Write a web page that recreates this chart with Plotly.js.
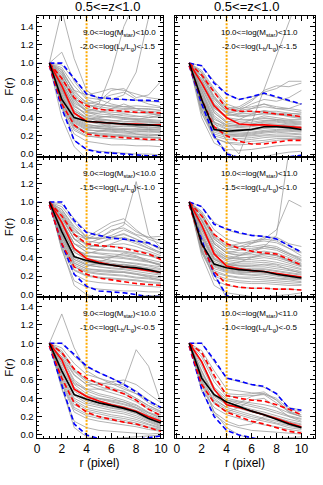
<!DOCTYPE html>
<html>
<head>
<meta charset="utf-8">
<script src="https://cdn.plot.ly/plotly-3.0.1.min.js"></script>
<style>
  html, body { margin: 0; padding: 0; background: #fff; }
  #grafico { width: 323px; height: 485px; }
</style>
</head>
<body>
<div id="grafico"></div>
<script>
// r (pixel) sampled at 1..10
const raio = [1, 2, 3, 4, 5, 6, 7, 8, 9, 10];

const tituloColuna = '0.5&lt;=z&lt;1.0';
const rotMassa = ['9.0&lt;=log(M<sub>star</sub>)&lt;10.0', '10.0&lt;=log(M<sub>star</sub>)&lt;11.0'];
const rotLum = ['-2.0&lt;=log(L<sub>b</sub>/L<sub>g</sub>)&lt;-1.5',
                '-1.5&lt;=log(L<sub>b</sub>/L<sub>g</sub>)&lt;-1.0',
                '-1.0&lt;=log(L<sub>b</sub>/L<sub>g</sub>)&lt;-0.5'];

// ---- painel superior esquerdo
const cinzaTL = [
  [1,0.98,0.82,0.66,0.62,0.60,0.60,0.59,0.58,0.57],
  [1,0.95,0.75,0.60,0.55,0.52,0.50,0.50,0.49,0.48],
  [1,0.90,0.70,0.55,0.50,0.48,0.47,0.45,0.46,0.44],
  [1,0.88,0.65,0.50,0.47,0.44,0.42,0.41,0.42,0.40],
  [1,0.85,0.60,0.46,0.42,0.40,0.39,0.38,0.37,0.36],
  [1,0.80,0.55,0.42,0.39,0.37,0.36,0.35,0.35,0.34],
  [1,0.78,0.50,0.40,0.36,0.34,0.33,0.33,0.32,0.31],
  [1,0.72,0.46,0.36,0.33,0.31,0.30,0.30,0.29,0.28],
  [1,0.68,0.42,0.33,0.30,0.29,0.28,0.27,0.27,0.26],
  [1,0.64,0.38,0.30,0.28,0.26,0.25,0.25,0.24,0.24],
  [1,0.60,0.35,0.27,0.25,0.24,0.23,0.22,0.22,0.21],
  [1,0.56,0.32,0.24,0.22,0.21,0.20,0.19,0.19,0.18],
  [1,0.52,0.28,0.20,0.18,0.17,0.16,0.16,0.15,0.15],
  [1,0.50,0.22,0.14,0.12,0.10,0.10,0.09,0.09,0.08],
  [1,0.55,0.15,0.05,0.03,0.02,0.01,0.00,0.00,-0.01],
  [0.98,0.40,0.08,-0.05,-0.06,-0.05,-0.05,-0.04,-0.04,-0.04],
  [1,1.58,1.05,0.70,0.60,0.55,0.52,0.50,0.50,0.48],
  [1,1.12,0.80,0.62,0.60,0.65,0.68,0.60,0.55,0.52],
  [1,0.90,0.62,0.50,0.55,0.90,1.40,1.70,1.70,1.70],
  [1,0.85,0.60,0.48,0.50,0.60,0.65,0.90,1.50,1.80],
  [1,0.82,0.60,0.55,0.58,0.70,0.72,0.62,0.65,0.80],
  [1,0.92,0.70,0.65,0.68,0.72,0.70,0.66,0.62,0.60],
  [1,0.75,0.52,0.45,0.45,0.50,0.55,0.50,0.45,0.42],
  [1,0.70,0.45,0.38,0.40,0.42,0.40,0.38,0.40,0.43],
  [1,0.62,0.36,0.28,0.30,0.33,0.32,0.30,0.28,0.30],
  [1,0.58,0.30,0.22,0.25,0.27,0.26,0.22,0.20,0.22],
  [1,0.83,0.58,0.47,0.44,0.43,0.44,0.42,0.40,0.41],
  [1,0.77,0.53,0.43,0.41,0.41,0.40,0.39,0.38,0.37],
  [1,0.74,0.48,0.39,0.37,0.36,0.38,0.37,0.36,0.35],
  [1,0.70,0.44,0.35,0.34,0.33,0.33,0.34,0.33,0.33],
  [1,0.66,0.40,0.32,0.31,0.30,0.31,0.30,0.30,0.29],
  [1,0.62,0.37,0.29,0.28,0.28,0.27,0.28,0.27,0.27],
  [1,0.58,0.34,0.26,0.26,0.25,0.24,0.24,0.25,0.24],
  [1,0.54,0.30,0.23,0.23,0.22,0.21,0.21,0.21,0.20],
  [1,0.52,0.26,0.19,0.20,0.19,0.19,0.18,0.18,0.18],
  [1,0.79,0.56,0.48,0.47,0.46,0.45,0.46,0.44,0.43],
  [1,0.87,0.66,0.54,0.52,0.50,0.49,0.48,0.47,0.46],
  [1,0.71,0.47,0.40,0.38,0.37,0.35,0.36,0.35,0.34],
  [1,0.65,0.39,0.31,0.29,0.27,0.27,0.26,0.26,0.25],
  [1,0.57,0.31,0.24,0.21,0.20,0.20,0.19,0.18,0.17],
  [1,0.93,0.68,0.57,0.54,0.53,0.52,0.53,0.52,0.51]
];
const medianaTL = [1,0.60,0.40,0.36,0.35,0.34,0.33,0.32,0.32,0.31];
const mediaTL   = [1,0.75,0.45,0.36,0.35,0.34,0.33,0.33,0.32,0.32];
const vermSupTL = [1,0.83,0.62,0.53,0.49,0.48,0.47,0.46,0.46,0.45];
const vermInfTL = [0.97,0.55,0.32,0.22,0.20,0.19,0.18,0.17,0.16,0.16];
const azulSupTL = [1,1.00,0.83,0.66,0.62,0.61,0.60,0.59,0.59,0.58];
const azulInfTL = [0.97,0.50,0.15,0.05,0.02,0.01,0.00,-0.01,-0.02,-0.02];

// ---- painel superior direito
const cinzaTR = [
  [1,0.97,0.80,0.66,0.60,0.63,0.66,0.62,0.58,0.55],
  [1,0.92,0.72,0.55,0.50,0.52,0.55,0.52,0.50,0.48],
  [1,0.88,0.68,0.50,0.46,0.47,0.46,0.44,0.43,0.41],
  [1,0.85,0.62,0.45,0.42,0.43,0.44,0.43,0.42,0.40],
  [1,0.80,0.55,0.40,0.38,0.38,0.40,0.38,0.37,0.36],
  [1,0.75,0.48,0.36,0.34,0.35,0.37,0.36,0.34,0.33],
  [1,0.70,0.42,0.32,0.30,0.31,0.34,0.33,0.32,0.30],
  [1,0.65,0.35,0.28,0.27,0.28,0.30,0.31,0.30,0.28],
  [1,0.60,0.30,0.25,0.25,0.26,0.28,0.29,0.28,0.26],
  [1,0.55,0.27,0.22,0.22,0.23,0.25,0.25,0.25,0.24],
  [1,0.50,0.24,0.20,0.19,0.20,0.21,0.22,0.22,0.21],
  [1,0.45,0.20,0.16,0.15,0.16,0.18,0.19,0.19,0.18],
  [1,0.50,0.18,0.12,0.10,0.11,0.13,0.15,0.16,0.16],
  [1,0.40,0.12,0.05,0.04,0.05,0.07,0.09,0.10,0.10],
  [1,0.55,0.20,0.02,-0.05,-0.05,-0.03,0.00,0.02,0.03],
  [1,0.70,0.35,0.15,0.00,0.34,0.71,1.08,1.45,1.82],
  [1,0.90,0.62,0.50,0.52,0.60,0.68,0.72,0.80,0.80],
  [1,0.85,0.60,0.48,0.50,0.58,0.70,0.75,0.74,0.78],
  [1,0.82,0.55,0.45,0.48,0.55,0.60,0.58,0.62,0.70],
  [1,0.78,0.50,0.42,0.44,0.50,0.55,0.50,0.50,0.55],
  [1,0.72,0.45,0.35,0.38,0.44,0.48,0.45,0.44,0.45],
  [1,0.62,0.35,0.30,0.32,0.38,0.42,0.40,0.38,0.38],
  [1,0.82,0.58,0.44,0.41,0.42,0.45,0.44,0.41,0.39],
  [1,0.77,0.51,0.39,0.36,0.37,0.39,0.38,0.36,0.35],
  [1,0.73,0.46,0.34,0.32,0.33,0.35,0.35,0.33,0.32],
  [1,0.68,0.40,0.30,0.29,0.30,0.32,0.32,0.31,0.29],
  [1,0.63,0.33,0.27,0.26,0.27,0.29,0.30,0.29,0.27],
  [1,0.58,0.29,0.24,0.23,0.24,0.26,0.27,0.26,0.25],
  [1,0.53,0.26,0.21,0.20,0.21,0.23,0.24,0.23,0.22],
  [1,0.48,0.22,0.18,0.17,0.18,0.20,0.20,0.20,0.19],
  [1,0.86,0.64,0.47,0.44,0.45,0.47,0.47,0.45,0.43],
  [1,0.66,0.38,0.32,0.31,0.33,0.36,0.37,0.35,0.34],
  [1,0.56,0.28,0.22,0.21,0.22,0.24,0.26,0.27,0.26],
  [1,0.90,0.70,0.52,0.48,0.50,0.52,0.50,0.48,0.46],
  [1,0.45,0.17,0.13,0.12,0.14,0.15,0.17,0.17,0.17]
];
const medianaTR = [1,0.60,0.27,0.25,0.26,0.27,0.30,0.30,0.29,0.27];
const mediaTR   = [1,0.78,0.53,0.40,0.33,0.32,0.32,0.31,0.30,0.29];
const vermSupTR = [1,0.87,0.68,0.50,0.47,0.47,0.46,0.44,0.43,0.41];
const vermInfTR = [0.97,0.60,0.30,0.20,0.14,0.11,0.11,0.13,0.15,0.15];
const azulSupTR = [1,0.97,0.78,0.66,0.60,0.63,0.67,0.63,0.59,0.55];
const azulInfTR = [0.97,0.55,0.20,0.00,-0.04,-0.06,-0.06,-0.05,-0.03,-0.015];

// ---- painel do meio esquerdo
const cinzaML = [
  [1,0.98,0.82,0.68,0.64,0.62,0.60,0.58,0.55,0.50],
  [1,0.95,0.78,0.62,0.60,0.62,0.65,0.60,0.52,0.45],
  [1,0.92,0.72,0.58,0.56,0.60,0.62,0.57,0.50,0.44],
  [1,0.88,0.66,0.54,0.52,0.54,0.55,0.52,0.47,0.42],
  [1,0.85,0.60,0.50,0.48,0.47,0.46,0.44,0.42,0.40],
  [1,0.80,0.55,0.46,0.44,0.42,0.40,0.38,0.36,0.33],
  [1,0.76,0.50,0.42,0.40,0.37,0.35,0.34,0.32,0.30],
  [1,0.72,0.46,0.38,0.36,0.34,0.32,0.31,0.29,0.27],
  [1,0.68,0.42,0.35,0.33,0.31,0.30,0.28,0.26,0.24],
  [1,0.64,0.38,0.32,0.30,0.28,0.27,0.25,0.23,0.21],
  [1,0.60,0.34,0.28,0.26,0.25,0.24,0.22,0.20,0.18],
  [1,0.56,0.30,0.24,0.22,0.21,0.20,0.18,0.17,0.15],
  [1,0.52,0.26,0.20,0.18,0.17,0.16,0.15,0.13,0.12],
  [1,0.50,0.22,0.15,0.13,0.12,0.11,0.10,0.09,0.08],
  [1,0.48,0.15,0.08,0.06,0.05,0.04,0.04,0.03,0.03],
  [1,0.50,0.10,0.00,-0.03,-0.02,-0.02,-0.02,-0.01,-0.01],
  [1,0.90,0.70,0.60,0.62,0.68,0.75,1.22,0.65,0.50],
  [1,0.88,0.68,0.62,0.70,0.78,0.82,0.70,0.60,0.55],
  [1,0.85,0.65,0.60,0.66,0.74,0.78,0.68,0.62,0.58],
  [1,0.82,0.60,0.55,0.60,0.70,0.72,0.65,0.62,0.63],
  [1,0.78,0.55,0.50,0.55,0.62,0.66,0.60,0.55,0.50],
  [1,0.70,0.48,0.44,0.48,0.55,0.60,0.55,0.50,0.46],
  [1,0.62,0.36,0.30,0.35,0.40,0.45,0.42,0.36,0.32],
  [1,0.83,0.60,0.50,0.49,0.48,0.47,0.45,0.42,0.38],
  [1,0.79,0.55,0.46,0.45,0.44,0.43,0.41,0.38,0.35],
  [1,0.75,0.50,0.42,0.41,0.40,0.39,0.37,0.35,0.32],
  [1,0.71,0.46,0.39,0.37,0.36,0.35,0.33,0.31,0.28],
  [1,0.67,0.42,0.35,0.34,0.33,0.32,0.30,0.28,0.25],
  [1,0.63,0.38,0.32,0.30,0.29,0.28,0.27,0.25,0.22],
  [1,0.59,0.34,0.28,0.27,0.26,0.25,0.23,0.21,0.19],
  [1,0.55,0.30,0.25,0.23,0.22,0.21,0.19,0.18,0.16],
  [1,0.87,0.64,0.53,0.52,0.52,0.51,0.48,0.45,0.40],
  [1,0.73,0.48,0.41,0.40,0.41,0.42,0.40,0.36,0.31],
  [1,0.65,0.40,0.33,0.32,0.32,0.33,0.31,0.27,0.23],
  [1,0.57,0.32,0.26,0.25,0.24,0.24,0.22,0.19,0.16],
  [1,0.92,0.74,0.62,0.60,0.64,0.70,0.64,0.56,0.48],
  [1,0.53,0.27,0.21,0.19,0.18,0.17,0.16,0.14,0.13]
];
const medianaML = [1,0.68,0.41,0.37,0.34,0.32,0.30,0.29,0.27,0.24];
const mediaML   = [1,0.78,0.50,0.39,0.35,0.32,0.30,0.28,0.26,0.24];
const vermSupML = [1,0.85,0.65,0.55,0.53,0.52,0.50,0.47,0.44,0.38];
const vermInfML = [0.97,0.55,0.30,0.22,0.18,0.16,0.14,0.12,0.11,0.10];
const azulSupML = [1,1.00,0.80,0.67,0.64,0.61,0.60,0.58,0.56,0.50];
const azulInfML = [0.97,0.55,0.22,0.09,0.04,0.03,0.02,0.00,-0.02,-0.02];

// ---- painel do meio direito
const cinzaMR = [
  [1,0.95,0.78,0.70,0.66,0.64,0.63,0.60,0.53,0.46],
  [1,0.90,0.70,0.60,0.56,0.56,0.58,0.56,0.50,0.42],
  [1,0.88,0.65,0.55,0.52,0.52,0.54,0.52,0.45,0.38],
  [1,0.85,0.60,0.50,0.48,0.48,0.50,0.48,0.42,0.36],
  [1,0.80,0.55,0.45,0.43,0.43,0.45,0.42,0.38,0.33],
  [1,0.75,0.50,0.40,0.38,0.38,0.40,0.38,0.34,0.30],
  [1,0.70,0.45,0.36,0.34,0.34,0.35,0.33,0.30,0.27],
  [1,0.65,0.40,0.33,0.31,0.30,0.30,0.28,0.26,0.24],
  [1,0.60,0.36,0.30,0.28,0.27,0.27,0.25,0.23,0.21],
  [1,0.55,0.32,0.27,0.25,0.24,0.24,0.22,0.20,0.18],
  [1,0.50,0.28,0.24,0.22,0.21,0.20,0.18,0.17,0.16],
  [1,0.48,0.24,0.20,0.18,0.17,0.16,0.15,0.14,0.13],
  [1,0.45,0.20,0.15,0.13,0.12,0.12,0.11,0.10,0.10],
  [1,0.50,0.16,0.10,0.08,0.07,0.07,0.06,0.06,0.05],
  [1,0.42,0.10,0.02,0.00,-0.02,-0.02,-0.01,0.00,0.02],
  [1,0.55,0.22,-0.04,-0.06,-0.05,-0.04,-0.03,-0.02,-0.01],
  [1,0.80,0.55,0.45,0.42,0.45,0.52,0.64,1.55,1.80],
  [1,0.88,0.62,0.52,0.55,0.58,0.60,0.70,1.02,0.95],
  [1,0.85,0.60,0.50,0.52,0.56,0.62,0.62,0.55,0.52],
  [1,0.80,0.55,0.45,0.48,0.55,0.60,0.58,0.50,0.45],
  [1,0.70,0.45,0.38,0.42,0.48,0.52,0.50,0.44,0.40],
  [1,0.62,0.38,0.32,0.35,0.40,0.44,0.42,0.36,0.32],
  [1,0.82,0.57,0.47,0.45,0.45,0.47,0.45,0.40,0.34],
  [1,0.77,0.52,0.42,0.40,0.40,0.42,0.40,0.36,0.31],
  [1,0.72,0.47,0.38,0.36,0.36,0.37,0.35,0.32,0.28],
  [1,0.67,0.42,0.34,0.32,0.32,0.32,0.30,0.28,0.25],
  [1,0.62,0.38,0.31,0.29,0.28,0.28,0.26,0.24,0.22],
  [1,0.57,0.34,0.28,0.26,0.25,0.25,0.23,0.21,0.19],
  [1,0.52,0.30,0.25,0.23,0.22,0.22,0.20,0.18,0.17],
  [1,0.47,0.26,0.21,0.19,0.19,0.18,0.17,0.16,0.14],
  [1,0.87,0.63,0.53,0.50,0.50,0.52,0.50,0.44,0.37],
  [1,0.74,0.48,0.40,0.39,0.41,0.44,0.43,0.37,0.31],
  [1,0.64,0.39,0.32,0.31,0.31,0.33,0.32,0.27,0.23],
  [1,0.54,0.31,0.26,0.24,0.24,0.23,0.21,0.19,0.17],
  [1,0.46,0.22,0.17,0.15,0.14,0.14,0.13,0.12,0.11]
];
const medianaMR = [1,0.55,0.33,0.29,0.27,0.26,0.25,0.22,0.20,0.18];
const mediaMR   = [1,0.75,0.44,0.31,0.28,0.26,0.25,0.23,0.21,0.19];
const vermSupMR = [1,0.85,0.65,0.55,0.50,0.47,0.45,0.44,0.38,0.32];
const vermInfMR = [0.97,0.55,0.25,0.11,0.08,0.07,0.07,0.06,0.06,0.05];
const azulSupMR = [1,0.95,0.76,0.71,0.67,0.64,0.63,0.60,0.53,0.46];
const azulInfMR = [0.97,0.60,0.22,-0.01,-0.06,-0.06,-0.06,-0.06,-0.06,-0.06];

// ---- painel inferior esquerdo
const cinzaBL = [
  [1,1.00,0.86,0.74,0.68,0.62,0.56,0.48,0.38,0.30],
  [1,0.95,0.78,0.66,0.62,0.58,0.52,0.45,0.35,0.28],
  [1,0.92,0.72,0.60,0.56,0.52,0.47,0.40,0.32,0.25],
  [1,0.88,0.66,0.55,0.50,0.46,0.42,0.36,0.28,0.22],
  [1,0.85,0.60,0.50,0.45,0.42,0.38,0.33,0.25,0.20],
  [1,0.80,0.55,0.45,0.40,0.37,0.34,0.30,0.22,0.17],
  [1,0.75,0.50,0.41,0.37,0.34,0.31,0.27,0.20,0.15],
  [1,0.70,0.45,0.37,0.33,0.30,0.28,0.24,0.17,0.12],
  [1,0.66,0.40,0.33,0.30,0.27,0.25,0.21,0.15,0.10],
  [1,0.62,0.36,0.28,0.25,0.22,0.20,0.17,0.12,0.08],
  [1,0.58,0.30,0.23,0.20,0.18,0.16,0.13,0.09,0.06],
  [1,0.55,0.25,0.18,0.15,0.13,0.11,0.09,0.06,0.04],
  [1,0.50,0.15,0.08,0.05,0.04,0.03,0.02,0.01,0.02],
  [1,0.52,0.08,-0.02,-0.04,-0.04,-0.03,-0.02,-0.01,0.00],
  [1,1.32,0.95,0.70,0.62,0.56,0.50,0.45,0.38,0.30],
  [1,0.90,0.70,0.60,0.57,0.55,0.55,0.93,0.75,0.35],
  [1,0.85,0.65,0.55,0.55,0.58,0.60,0.55,0.45,0.35],
  [1,0.78,0.56,0.50,0.50,0.50,0.48,0.40,0.32,0.26],
  [1,0.68,0.44,0.40,0.40,0.38,0.36,0.30,0.24,0.18],
  [1,0.83,0.58,0.48,0.43,0.40,0.36,0.32,0.24,0.19],
  [1,0.78,0.52,0.43,0.39,0.36,0.33,0.29,0.21,0.16],
  [1,0.73,0.48,0.39,0.35,0.32,0.30,0.26,0.19,0.14],
  [1,0.68,0.43,0.35,0.32,0.29,0.27,0.23,0.16,0.11],
  [1,0.64,0.38,0.30,0.27,0.25,0.23,0.19,0.14,0.09],
  [1,0.60,0.33,0.26,0.23,0.20,0.18,0.15,0.11,0.07],
  [1,0.90,0.69,0.58,0.53,0.49,0.45,0.38,0.30,0.24],
  [1,0.56,0.28,0.21,0.18,0.16,0.14,0.11,0.08,0.05]
];
const medianaBL = [1,0.70,0.44,0.39,0.35,0.32,0.29,0.25,0.18,0.13];
const mediaBL   = [1,0.82,0.50,0.42,0.37,0.33,0.30,0.26,0.20,0.15];
const vermSupBL = [1,0.90,0.72,0.62,0.56,0.50,0.45,0.38,0.28,0.21];
const vermInfBL = [0.97,0.62,0.35,0.25,0.20,0.17,0.14,0.12,0.08,0.04];
const azulSupBL = [1,1.00,0.88,0.75,0.68,0.62,0.55,0.47,0.37,0.30];
const azulInfBL = [0.97,0.55,0.12,0.00,-0.04,-0.05,-0.05,-0.05,-0.03,-0.01];

// ---- painel inferior direito
const cinzaBR = [
  [1,1.00,0.80,0.62,0.58,0.55,0.52,0.45,0.30,0.27],
  [1,0.92,0.70,0.50,0.48,0.46,0.45,0.40,0.28,0.25],
  [1,0.88,0.62,0.45,0.44,0.45,0.47,0.38,0.26,0.22],
  [1,0.85,0.58,0.42,0.42,0.43,0.44,0.35,0.25,0.20],
  [1,0.80,0.52,0.40,0.37,0.35,0.33,0.30,0.24,0.20],
  [1,0.75,0.48,0.38,0.34,0.31,0.28,0.24,0.20,0.17],
  [1,0.70,0.45,0.36,0.32,0.28,0.25,0.21,0.17,0.14],
  [1,0.65,0.42,0.33,0.29,0.25,0.22,0.18,0.14,0.11],
  [1,0.60,0.38,0.30,0.26,0.22,0.18,0.15,0.11,0.08],
  [1,0.55,0.34,0.26,0.22,0.18,0.15,0.12,0.08,0.06],
  [1,0.50,0.30,0.22,0.18,0.14,0.11,0.09,0.06,0.04],
  [1,0.48,0.22,0.12,0.08,0.05,0.04,0.03,0.02,0.01],
  [1,0.55,0.25,0.08,0.00,-0.04,-0.05,-0.04,-0.03,-0.02],
  [1,0.65,0.35,0.25,0.30,0.38,0.40,0.30,0.20,0.15],
  [1,0.70,0.40,0.30,0.35,0.42,0.45,0.38,0.25,0.20],
  [1,0.60,0.25,0.15,0.10,0.12,0.20,0.18,0.12,0.08],
  [1,0.78,0.50,0.38,0.36,0.33,0.30,0.26,0.21,0.18],
  [1,0.68,0.43,0.34,0.30,0.27,0.23,0.19,0.15,0.12],
  [1,0.58,0.36,0.28,0.24,0.20,0.17,0.13,0.10,0.07]
];
const medianaBR = [1,0.62,0.44,0.36,0.31,0.26,0.22,0.17,0.12,0.08];
const mediaBR   = [1,0.80,0.50,0.33,0.30,0.26,0.22,0.18,0.13,0.09];
const vermSupBR = [1,0.90,0.65,0.43,0.40,0.38,0.37,0.33,0.28,0.22];
const vermInfBR = [0.97,0.55,0.35,0.25,0.20,0.15,0.12,0.08,0.04,0.02];
const azulSupBR = [1,1.00,0.82,0.62,0.59,0.55,0.53,0.45,0.29,0.27];
const azulInfBR = [0.97,0.50,0.20,0.05,0.00,-0.03,-0.06,-0.06,-0.06,-0.06];

// ordem: TL, TR, ML, MR, BL, BR
const paineis = [
  { cinza: cinzaTL, med: medianaTL, media: mediaTL, vs: vermSupTL, vi: vermInfTL, as: azulSupTL, ai: azulInfTL },
  { cinza: cinzaTR, med: medianaTR, media: mediaTR, vs: vermSupTR, vi: vermInfTR, as: azulSupTR, ai: azulInfTR },
  { cinza: cinzaML, med: medianaML, media: mediaML, vs: vermSupML, vi: vermInfML, as: azulSupML, ai: azulInfML },
  { cinza: cinzaMR, med: medianaMR, media: mediaMR, vs: vermSupMR, vi: vermInfMR, as: azulSupMR, ai: azulInfMR },
  { cinza: cinzaBL, med: medianaBL, media: mediaBL, vs: vermSupBL, vi: vermInfBL, as: azulSupBL, ai: azulInfBL },
  { cinza: cinzaBR, med: medianaBR, media: mediaBR, vs: vermSupBR, vi: vermInfBR, as: azulSupBR, ai: azulInfBR }
];

const W = 323, H = 485;
const colDom = [[36.5 / W, 162.7 / W], [175 / W, 315 / W]];
const rowDom = [[1 - 157 / H, 1 - 16 / H], [1 - 297 / H, 1 - 157 / H], [1 - 438 / H, 1 - 297 / H]];
const xRange = [[-0.04, 10.14], [-0.14, 11.09]];
const yRange = [[-0.033, 1.518], [-0.025, 1.486], [-0.033, 1.505]];
const fonte = 'Liberation Sans, Arial, sans-serif';

const traces = [];
const layout = {
  width: W, height: H,
  margin: { l: 0, r: 0, t: 0, b: 0 },
  paper_bgcolor: 'white', plot_bgcolor: 'white',
  showlegend: false,
  font: { family: fonte, color: 'black' },
  annotations: []
};

paineis.forEach((p, i) => {
  const n = i + 1;
  const sx = n === 1 ? 'x' : 'x' + n;
  const sy = n === 1 ? 'y' : 'y' + n;
  const col = i % 2, row = Math.floor(i / 2);

  const linha = (y, cor, larg, dash) => ({
    x: raio, y: y, xaxis: sx, yaxis: sy, mode: 'lines', type: 'scatter',
    line: { color: cor, width: larg, dash: dash || 'solid' }, hoverinfo: 'skip'
  });

  p.cinza.forEach(c => traces.push(linha(c, '#999999', 0.75)));
  // linha vertical em r = 4
  traces.push({ x: [4, 4], y: [-0.2, 1.7], xaxis: sx, yaxis: sy, mode: 'lines', type: 'scatter',
                line: { color: '#FFAA00', width: 2, dash: '2px,1.5px' }, hoverinfo: 'skip' });
  traces.push(linha(p.as, '#0000FF', 1.6, '5px,3px'));
  traces.push(linha(p.ai, '#0000FF', 1.6, '5px,3px'));
  traces.push(linha(p.vs, '#FF0000', 1.6, '5px,3px'));
  traces.push(linha(p.vi, '#FF0000', 1.6, '5px,3px'));
  traces.push(linha(p.media, '#FF0000', 1.6));
  traces.push(linha(p.med, '#000000', 1.6));

  const base = {
    showline: true, linecolor: 'black', linewidth: 1, mirror: 'allticks',
    ticks: 'inside', tickcolor: 'black', tickwidth: 1, ticklen: 5,
    showgrid: false, zeroline: false, fixedrange: true
  };

  layout['xaxis' + (n === 1 ? '' : n)] = Object.assign({}, base, {
    domain: colDom[col], range: xRange[col], anchor: sy,
    tick0: 0, dtick: 2, showticklabels: row === 2,
    tickfont: { size: 12, family: fonte, color: 'black' },
    minor: { dtick: 0.5, tick0: 0, ticks: 'inside', ticklen: 2.5, tickcolor: 'black', showgrid: false },
    title: row === 2 ? { text: 'r (pixel)', font: { size: 12, family: fonte }, standoff: 2 } : { text: '' }
  });
  layout['yaxis' + (n === 1 ? '' : n)] = Object.assign({}, base, {
    domain: rowDom[row], range: yRange[row], anchor: sx,
    tick0: 0, dtick: 0.2, tickformat: '.1f', showticklabels: col === 0,
    tickfont: { size: 9.5, family: fonte, color: 'black' },
    minor: { dtick: 0.05, tick0: 0, ticks: 'inside', ticklen: 2.5, tickcolor: 'black', showgrid: false },
    title: col === 0 ? { text: 'F(r)', font: { size: 11.5, family: fonte }, standoff: 4 } : { text: '' }
  });

  const xDir = col === 0 ? 158 / W : 300 / W;
  const topo = [16, 157, 297][row];
  layout.annotations.push(
    { xref: 'paper', yref: 'paper', x: xDir, y: 1 - (topo + 17) / H, xanchor: 'right', yanchor: 'middle',
      text: rotMassa[col], showarrow: false, font: { size: 8, family: fonte, color: 'black' } },
    { xref: 'paper', yref: 'paper', x: xDir, y: 1 - (topo + 31) / H, xanchor: 'right', yanchor: 'middle',
      text: rotLum[row], showarrow: false, font: { size: 8, family: fonte, color: 'black' } }
  );
});

[107, 246].forEach(cx => layout.annotations.push({
  xref: 'paper', yref: 'paper', x: cx / W, y: 1 - 7 / H, xanchor: 'center', yanchor: 'middle',
  text: tituloColuna, showarrow: false, font: { size: 13, family: fonte, color: 'black' }
}));

Plotly.newPlot('grafico', traces, layout, { staticPlot: true, displayModeBar: false });
</script>
</body>
</html>
